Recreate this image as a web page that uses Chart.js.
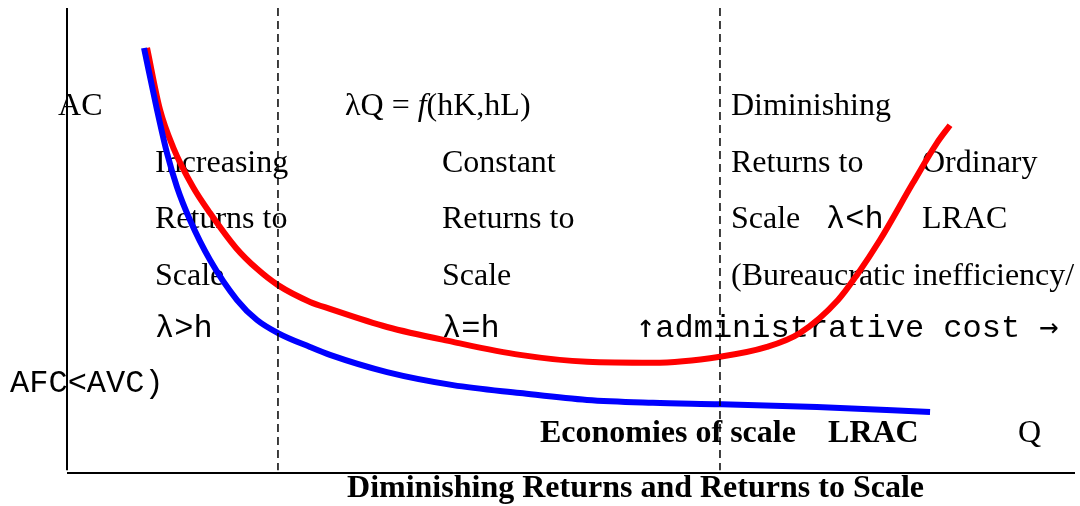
<!DOCTYPE html>
<html>
<head>
<meta charset="utf-8">
<script src="https://cdn.jsdelivr.net/npm/chart.js@4/dist/chart.umd.min.js"></script>
<style>
  html, body { margin: 0; padding: 0; background: #fff; }
  #wrap { width: 1080px; height: 506px; position: relative; }
</style>
</head>
<body>
<div id="wrap"><canvas id="c"></canvas></div>
<script>
// Q runs 0..100 along the horizontal axis, AC 0..100 up the vertical one
const Q_RED  = [7.94, 9.23, 10.52, 12.50, 14.19, 16.77, 18.85, 20.93, 24.11, 26.09, 31.75, 38.29, 44.94, 51.59, 58.13, 64.78, 69.44, 72.72, 76.49, 78.37, 80.65, 83.93, 86.31, 87.60];
const AC_RED = [91.4, 78.1, 70.1, 61.5, 55.9, 48.4, 43.9, 40.4, 36.8, 35.3, 31.4, 28.2, 25.4, 23.9, 23.7, 25.0, 27.1, 30.1, 37.2, 42.6, 50.1, 62.4, 71.0, 74.8];

const Q_BLUE  = [7.64, 8.93, 9.92, 10.91, 12.20, 14.19, 16.87, 18.85, 20.93, 24.11, 26.09, 31.75, 38.29, 44.94, 51.59, 58.13, 64.78, 74.40, 85.62];
const AC_BLUE = [91.4, 78.1, 68.8, 61.5, 54.4, 45.8, 37.2, 32.9, 30.1, 27.1, 25.4, 21.7, 18.9, 17.2, 15.7, 15.1, 14.8, 14.2, 13.1];

const DIVIDERS = [20.93, 64.78];   // dashed region boundaries on Q

const SERIF = '32px "Liberation Serif", "Times New Roman", serif';
const ITAL  = 'italic 32px "Liberation Serif", "Times New Roman", serif';
const BOLD  = 'bold 32px "Liberation Serif", "Times New Roman", serif';
const MONO  = '32px "Liberation Mono", "Courier New", monospace';
const ARROW = '32px "DejaVu Sans Mono", monospace';

// text labels: runs of [text, font], left edge q, baseline ac
const LABELS = [
  { q: -0.89, ac: 77.0, runs: [['AC', SERIF]] },
  { q: 27.58, ac: 77.0, runs: [['λQ = ', SERIF], ['f', ITAL], ['(hK,hL)', SERIF]] },
  { q: 65.87, ac: 77.0, runs: [['Diminishing', SERIF]] },

  { q: 8.73,  ac: 64.7, runs: [['Increasing', SERIF]] },
  { q: 37.20, ac: 64.7, runs: [['Constant', SERIF]] },
  { q: 65.87, ac: 64.7, runs: [['Returns to', SERIF]] },
  { q: 84.82, ac: 64.7, runs: [['Ordinary', SERIF]] },

  { q: 8.73,  ac: 52.7, runs: [['Returns to', SERIF]] },
  { q: 37.20, ac: 52.7, runs: [['Returns to', SERIF]] },
  { q: 65.87, ac: 52.7, runs: [['Scale', SERIF]] },
  { q: 75.30, ac: 52.7, runs: [['λ<h', MONO]] },
  { q: 84.82, ac: 52.7, runs: [['LRAC', SERIF]] },

  { q: 8.73,  ac: 40.4, runs: [['Scale', SERIF]] },
  { q: 37.20, ac: 40.4, runs: [['Scale', SERIF]] },
  { q: 65.87, ac: 40.4, runs: [['(Bureaucratic inefficiency/', SERIF]] },

  { q: 8.73,  ac: 29.2, runs: [['λ>h', MONO]] },
  { q: 37.20, ac: 29.2, runs: [['λ=h', MONO]] },
  { q: 56.45, ac: 29.2, runs: [['↑', ARROW], ['administrative cost ', MONO], ['→', ARROW]] },

  { q: -5.65, ac: 17.4, runs: [['AFC<AVC)', MONO]] },

  { q: 46.92, ac: 6.67, runs: [['Economies of scale', BOLD]] },
  { q: 75.50, ac: 6.67, runs: [['LRAC', BOLD]] },
  { q: 94.35, ac: 6.67, runs: [['Q', SERIF]] },

  { q: 27.78, ac: -5.16, runs: [['Diminishing Returns and Returns to Scale', BOLD]] },
];

const pts = (xs, ys) => xs.map((x, i) => ({ x, y: ys[i] }));

const textPlugin = {
  id: 'diagramText',
  beforeDatasetsDraw(chart) {
    const { ctx, scales: { x, y } } = chart;
    ctx.save();
    ctx.fillStyle = '#000';
    ctx.textAlign = 'left';
    ctx.textBaseline = 'alphabetic';
    LABELS.forEach(l => {
      let px = x.getPixelForValue(l.q);
      const py = y.getPixelForValue(l.ac);
      l.runs.forEach(([t, f]) => {
        ctx.font = f;
        ctx.fillText(t, px, py);
        px += ctx.measureText(t).width;
      });
    });
    ctx.restore();
  }
};

const axisStyle = { borderColor: '#000', borderWidth: 2, pointRadius: 0, tension: 0, clip: false };
const dashStyle = { borderColor: '#000', borderWidth: 1.5, borderDash: [8, 5], pointRadius: 0, tension: 0, clip: false };

const datasets = [
  { label: 'Q axis',  data: [{ x: 0, y: 0 }, { x: 100, y: 0 }], ...axisStyle },
  { label: 'AC axis', data: [{ x: 0, y: 100 }, { x: 0, y: 0.6 }], ...axisStyle },
  ...DIVIDERS.map(q => ({ label: 'divider', data: [{ x: q, y: 100 }, { x: q, y: 0.6 }], ...dashStyle })),
  { label: 'Economies of scale LRAC', data: pts(Q_BLUE, AC_BLUE), borderColor: '#0000ff', borderWidth: 6,
    pointRadius: 0, cubicInterpolationMode: 'monotone', clip: false },
  { label: 'Ordinary LRAC', data: pts(Q_RED, AC_RED), borderColor: '#ff0000', borderWidth: 6,
    pointRadius: 0, cubicInterpolationMode: 'monotone', clip: false },
];

new Chart(document.getElementById('c'), {
  type: 'line',
  data: { datasets },
  options: {
    responsive: true,
    maintainAspectRatio: false,
    animation: false,
    events: [],
    layout: { padding: { left: 67, right: 5, top: 8, bottom: 33 } },
    plugins: { legend: { display: false }, tooltip: { enabled: false } },
    scales: {
      x: { type: 'linear', min: 0, max: 100, display: false },
      y: { type: 'linear', min: 0, max: 100, display: false }
    }
  },
  plugins: [textPlugin]
});
</script>
</body>
</html>
